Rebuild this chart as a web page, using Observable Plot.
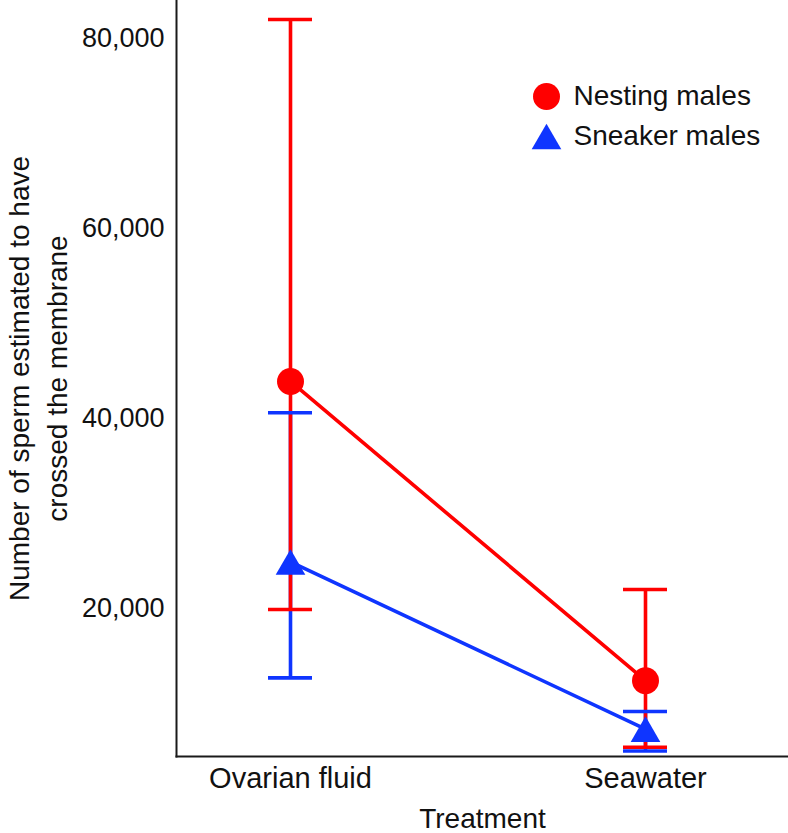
<!DOCTYPE html>
<html>
<head>
<meta charset="utf-8">
<script src="https://cdn.jsdelivr.net/npm/d3@7"></script>
<script src="https://cdn.jsdelivr.net/npm/@observablehq/plot@0.6"></script>
<style>
  html, body { margin: 0; padding: 0; background: #fff; }
  #chart svg { font-family: "Liberation Sans", Arial, Helvetica, sans-serif; }
</style>
</head>
<body>
<div id="chart"></div>
<script>
// ---- data ----
const treatments = ["Ovarian fluid", "Seawater"];
const groups = ["Nesting males", "Sneaker males"];
const groupColors = ["#ff0000", "#0f35ff"];
const groupSymbols = ["circle", "triangle"];

const nestingMean = [43900, 12400];
const nestingLow  = [19900, 5400];
const nestingHigh = [82000, 22000];

const sneakerMean = [24900, 7300];
const sneakerLow  = [12700, 5000];
const sneakerHigh = [40600, 9150];

const yTicks = [20000, 40000, 60000, 80000];
const yLabel = "Number of sperm estimated to have\ncrossed the membrane";
const xLabel = "Treatment";

// ---- table ----
const series = [
  {group: groups[0], mean: nestingMean, low: nestingLow, high: nestingHigh},
  {group: groups[1], mean: sneakerMean, low: sneakerLow, high: sneakerHigh}
];
const rows = series.flatMap(s => treatments.map((t, i) => ({
  treatment: t, group: s.group, mean: s.mean[i], low: s.low[i], high: s.high[i]
})));
const nest = rows.filter(d => d.group === groups[0]);
const sneak = rows.filter(d => d.group === groups[1]);

const font = "\"Liberation Sans\", Arial, Helvetica, sans-serif";
const sw = 3.6;
const triR = 11;
const triDy = 4.3;

const marks = [
  Plot.frame({anchor: "left", stroke: "#1a1a1a", strokeWidth: 2}),
  Plot.frame({anchor: "bottom", stroke: "#1a1a1a", strokeWidth: 2}),
  Plot.axisY({ticks: yTicks, tickSize: 0, tickPadding: 12, fontSize: 27, tickFormat: d3.format(","), label: null, fill: "#111"}),
  Plot.axisX({tickSize: 0, tickPadding: 11, fontSize: 29, label: null, fill: "#111"}),
  // error bar stems
  Plot.ruleX(sneak, {x: "treatment", y1: "low", y2: "high", stroke: groupColors[1], strokeWidth: sw}),
  Plot.ruleX(nest, {x: "treatment", y1: "low", y2: "high", stroke: groupColors[0], strokeWidth: sw}),
  // caps
  Plot.tickY(sneak, {x: "treatment", y: "low", stroke: groupColors[1], strokeWidth: sw}),
  Plot.tickY(sneak, {x: "treatment", y: "high", stroke: groupColors[1], strokeWidth: sw}),
  Plot.tickY(nest, {x: "treatment", y: "low", stroke: groupColors[0], strokeWidth: sw}),
  Plot.tickY(nest, {x: "treatment", y: "high", stroke: groupColors[0], strokeWidth: sw}),
  // connecting lines
  Plot.line(nest, {x: "treatment", y: "mean", stroke: groupColors[0], strokeWidth: sw}),
  Plot.line(sneak, {x: "treatment", y: "mean", stroke: groupColors[1], strokeWidth: sw}),
  // points
  Plot.dot(nest, {x: "treatment", y: "mean", r: 13.5, fill: groupColors[0], symbol: groupSymbols[0]}),
  Plot.dot(sneak, {x: "treatment", y: "mean", r: triR, fill: groupColors[1], symbol: groupSymbols[1], dy: triDy}),
  // axis titles
  Plot.text([yLabel], {frameAnchor: "left", rotate: -90, dx: -141, fontSize: 28, lineHeight: 1.36,
    textAnchor: "middle", lineAnchor: "middle", text: d => d, fill: "#111"}),
  Plot.text([xLabel], {frameAnchor: "bottom", dy: 63, fontSize: 28, textAnchor: "middle", lineAnchor: "middle",
    text: d => d, fill: "#111"}),
];

// legend (inside plot, top right)
groups.forEach((g, i) => {
  marks.push(Plot.dot([g], {frameAnchor: "top-left", dx: 370, dy: 96 + 40 * i + (i === 1 ? triDy : 0),
    r: i === 0 ? 13.5 : triR, fill: groupColors[i], symbol: groupSymbols[i]}));
  marks.push(Plot.text([g], {frameAnchor: "top-left", dx: 397, dy: 96 + 40 * i, text: d => d,
    textAnchor: "start", lineAnchor: "middle", fontSize: 28, fill: "#111"}));
});

const chart = Plot.plot({
  width: 788,
  height: 833,
  marginLeft: 176,
  marginRight: 0,
  marginTop: 0,
  marginBottom: 77,
  style: {fontFamily: font, background: "#fff"},
  x: {type: "band", domain: treatments, range: [267, 667], paddingInner: 0.8764, paddingOuter: 0, align: 0.5},
  y: {domain: [4420, 84000]},
  marks
});
document.getElementById("chart").appendChild(chart);
</script>
</body>
</html>
